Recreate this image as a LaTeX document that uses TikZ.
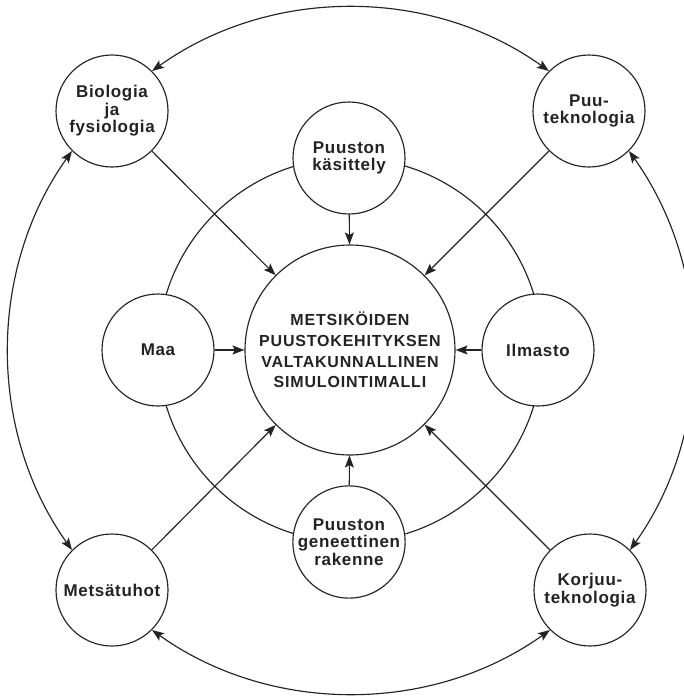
\documentclass[tikz,border=0pt]{standalone}
\usepackage{fontspec}
\setmainfont{Liberation Sans}[LetterSpace=4]
\newfontfamily\hubfont{Liberation Sans}[LetterSpace=5]
\usetikzlibrary{arrows.meta}
\definecolor{ink}{RGB}{35,35,35}
\begin{document}
\begin{tikzpicture}[x=1pt,y=1pt,
  line width=1.15pt, draw=ink, text=ink,
  tip/.tip={Stealth[length=12pt,width=9pt,inset=2.5pt]},
  arr/.style={-tip},
  darr/.style={tip-tip},
  blob/.style={circle,draw=ink,fill=white,minimum size=112pt,inner sep=0pt,align=center,
    font=\bfseries\fontsize{17}{17.5}\selectfont},
  hub/.style={circle,draw=ink,fill=white,minimum size=210pt,inner sep=0pt,align=center,
    font=\hubfont\bfseries\fontsize{16}{20.8}\selectfont}]
\useasboundingbox (0,0) rectangle (684,-697);
\coordinate (C) at (350,-350);
\draw[ink] (C) circle (192);
\node[hub] (hub) at (C) {METSIKÖIDEN\\PUUSTOKEHITYKSEN\\VALTAKUNNALLINEN\\SIMULOINTIMALLI};
\node[blob] (kas) at (349,-158) {Puuston\\käsittely};
\node[blob] (maa) at (158,-350) {Maa};
\node[blob] (ilm) at (538,-350) {Ilmasto};
\node[blob] (gen) at (349,-542) {Puuston\\geneettinen\\rakenne};
\node[blob] (bio) at (112,-111) {Biologia\\ja\\fysiologia};
\node[blob] (puu) at (589,-111) {Puu-\\teknologia};
\node[blob] (met) at (112,-590) {Metsätuhot};
\node[blob] (kor) at (590,-590) {Korjuu-\\teknologia};
\foreach \n in {kas,maa,ilm,gen,bio,puu,met,kor}
  \draw[arr] (\n) -- (hub);
\draw[darr] (bio.45) to[out=35.5,in=144.5,distance=145.5pt] (puu.135);
\draw[darr] (puu.-45) to[out=-54.5,in=54.5,distance=145.5pt] (kor.45);
\draw[darr] (kor.-135) to[out=-144.5,in=-35.5,distance=145.5pt] (met.-45);
\draw[darr] (met.135) to[out=125.5,in=-125.5,distance=145.5pt] (bio.-135);
\end{tikzpicture}
\end{document}
